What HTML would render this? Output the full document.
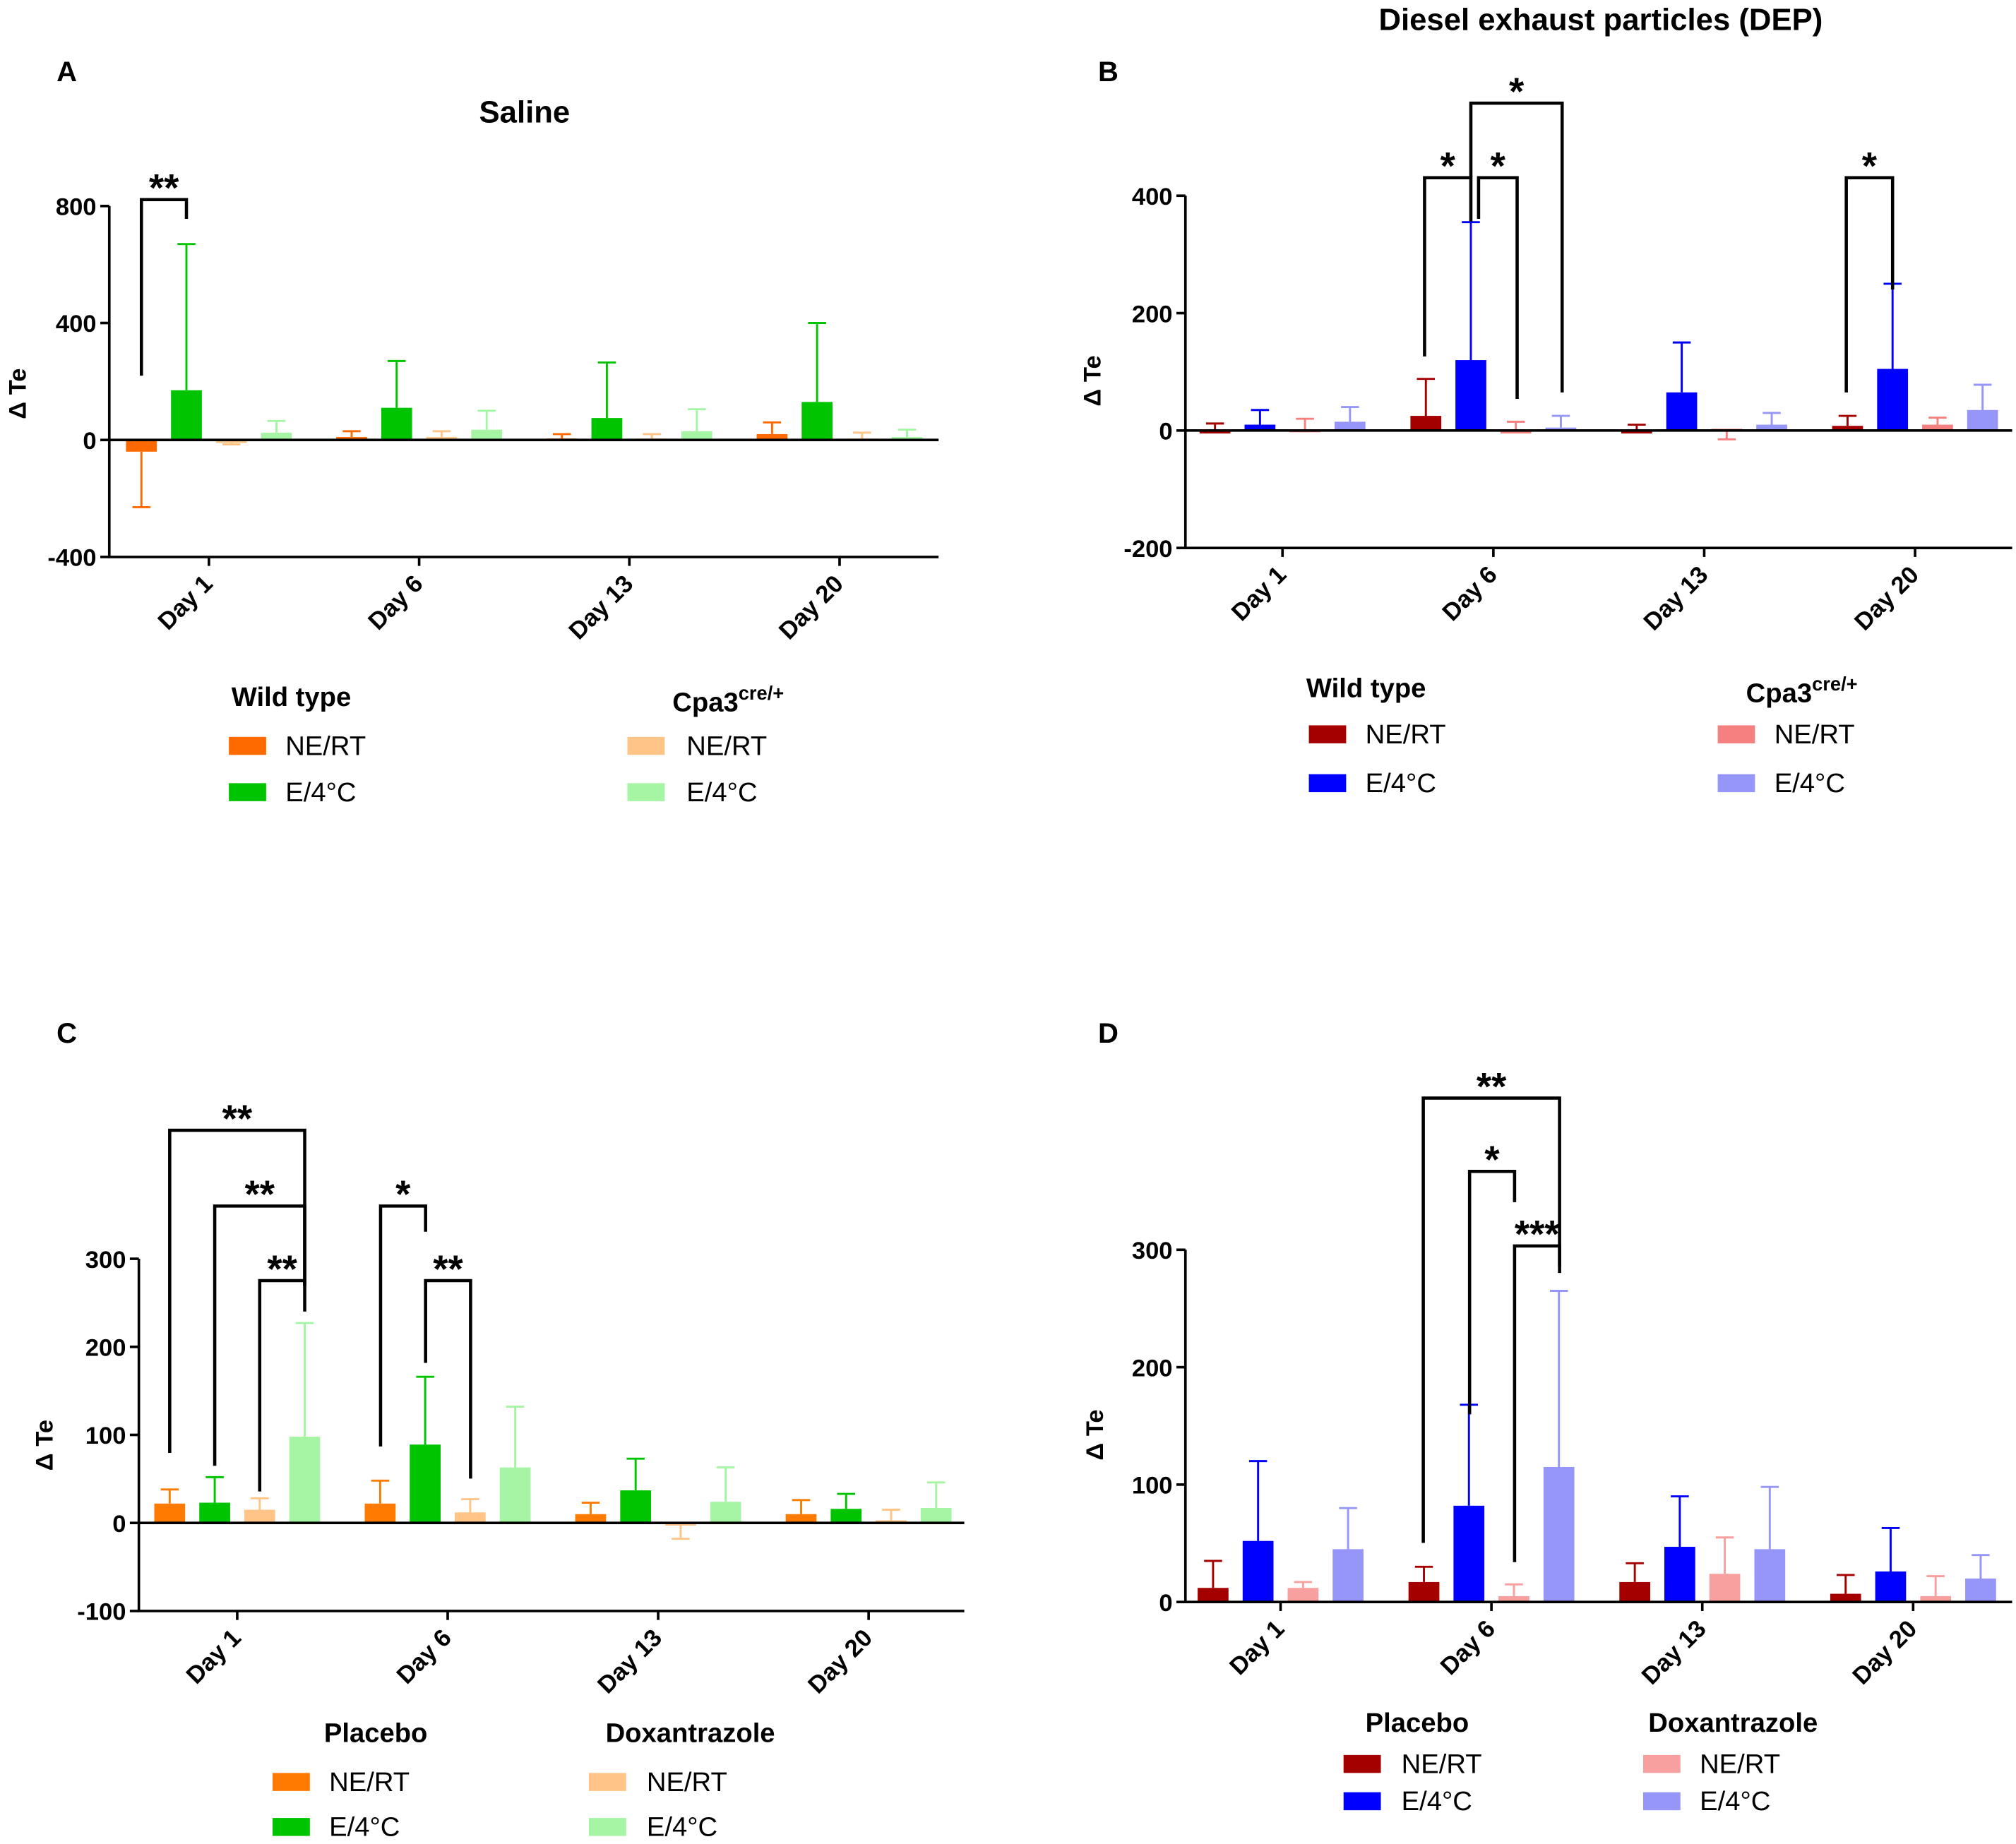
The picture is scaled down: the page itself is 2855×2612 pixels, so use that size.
<!DOCTYPE html>
<html><head><meta charset="utf-8"><style>
html,body{margin:0;padding:0;background:#fff}
svg{display:block;font-family:"Liberation Sans",Arial,sans-serif}
</style></head><body>
<svg id="fig" width="2855" height="2612" viewBox="0 0 1568 1434" xmlns="http://www.w3.org/2000/svg">
<g font-weight="bold" fill="#000">
<text x="44" y="63" font-size="22">A</text>
<text x="854" y="63" font-size="22">B</text>
<text x="44" y="811" font-size="22">C</text>
<text x="854" y="811" font-size="22">D</text>
<text x="408" y="95" font-size="24" text-anchor="middle">Saline</text>
<text x="1245" y="23" font-size="24" text-anchor="middle">Diesel exhaust particles (DEP)</text>
</g>
<g id="plots"></g>
</svg>
<script>
// Data
const days = ["Day 1","Day 6","Day 13","Day 20"];
const seriesNames = ["NE/RT","E/4°C","NE/RT","E/4°C"];
// Panel A (Saline)
const aMean = [[-40,170,-10,25],[10,110,10,35],[5,75,5,30],[20,130,5,10]];
const aErr  = [[-230,670,-15,65],[30,270,30,100],[20,265,20,105],[60,400,25,35]];
const aTicks = [800,400,0,-400];
// Panel B (DEP)
const bMean = [[-5,10,-3,15],[25,120,-5,5],[-5,65,3,10],[8,105,10,35]];
const bErr  = [[12,35,20,40],[88,355,15,25],[10,150,-15,30],[25,250,22,78]];
const bTicks = [400,200,0,-200];
// Panel C
const cMean = [[22,23,15,98],[22,89,12,63],[10,37,-3,24],[10,16,3,17]];
const cErr  = [[38,52,28,227],[48,166,27,132],[23,73,-18,63],[26,33,15,46]];
const cTicks = [300,200,100,0,-100];
// Panel D
const dMean = [[12,52,12,45],[17,82,5,115],[17,47,24,45],[7,26,5,20]];
const dErr  = [[35,120,17,80],[30,168,15,265],[33,90,55,98],[23,63,22,40]];
const dTicks = [300,200,100,0];

const NS="http://www.w3.org/2000/svg";
const root=document.getElementById('plots');
function mk(tag,attrs,parent){const e=document.createElementNS(NS,tag);for(const k in attrs)e.setAttribute(k,attrs[k]);(parent||root).appendChild(e);return e;}

const panels=[
 {id:'a',mean:aMean,err:aErr,ticks:aTicks,x0:85,x1:730,yTop:160,vTop:800,yBot:433,vBot:-400,c0:162.5,gap:163.5,colors:['#ff6a00','#00c400','#ffc487','#a5f5a5'],
  ylab:[14,300],leg:{t1:['Wild type',180,549],t2:[523,553],sx1:178,tx1:222,sx2:488,tx2:534,y1:580,y2:616},
  br:[[110,145,155,292,170,'**']]},
 {id:'b',mean:bMean,err:bErr,ticks:bTicks,x0:922,x1:1565,yTop:152,vTop:400,yBot:426,vBot:-200,c0:997.5,gap:164,colors:['#a50000','#0000ff','#f58080','#9696f8'],
  ylab:[850,290],leg:{t1:['Wild type',1016,542],t2:[1358,546],sx1:1018,tx1:1062,sx2:1336,tx2:1380,y1:571,y2:609},
  br:[[1108,1144,138,277,172,'*'],[1150,1180,138,170,310,'*'],[1144,1215,80,138,305,'*'],[1436,1472,138,305,225,'*']]},
 {id:'c',mean:cMean,err:cErr,ticks:cTicks,x0:108,x1:750,yTop:979,vTop:300,yBot:1253,vBot:-100,c0:184.5,gap:163.7,colors:['#ff7a00','#00c400','#ffc487','#a5f5a5'],
  ylab:[35,1118],leg:{t1:['Placebo',252,1355],t2:null,d:['Doxantrazole',471,1355],sx1:212,tx1:256,sx2:458,tx2:503,y1:1386,y2:1421},
  br:[[132,237,879,1130,1000,'**'],[167,237,938,1140,1000,'**'],[202,237,996,1160,1020,'**'],[296,331,938,1125,958,'*'],[331,366,996,1060,1150,'**']]},
 {id:'d',mean:dMean,err:dErr,ticks:dTicks,x0:922,x1:1565,yTop:972,vTop:300,yBot:1246,vBot:0,c0:996,gap:164,colors:['#a50000','#0000ff','#f8a0a0','#9696f8'],
  ylab:[852,1110],leg:{t1:['Placebo',1062,1347],t2:null,d:['Doxantrazole',1282,1347],sx1:1045,tx1:1090,sx2:1278,tx2:1322,y1:1372,y2:1401},
  br:[[1107,1213,854,1200,985,'**'],[1143,1178,911,1100,935,'*'],[1178,1213,969,1215,990,'***']]}
];

panels.forEach(p=>{
 const g=mk('g',{});
 
 
 const y=v=>p.yTop+(p.vTop-v)*(p.yBot-p.yTop)/(p.vTop-p.vBot);
 const offs=[-52.5,-17.5,17.5,52.5], bw=24;
 p.mean.forEach((grp,gi)=>{
  const cx=p.c0+gi*p.gap;
  grp.forEach((v,si)=>{
   const x=cx+offs[si], col=p.colors[si];
   const r=mk('rect',{x:x-bw/2,y:Math.min(y(v),y(0)),width:bw,height:Math.max(Math.abs(y(v)-y(0)),0.5),fill:col},g);
   
   
   const e=p.err[gi][si];
   const el=mk('path',{d:`M${x} ${y(v)}V${y(e)}M${x-7} ${y(e)}H${x+7}`,stroke:col,'stroke-width':1.6,fill:'none'},g);
   
   
  });
 });
 const ax=mk('path',{d:`M${p.x0} ${p.yTop}V${p.yBot}H${p.x1}M${p.x0} ${y(0)}H${p.x1}`,stroke:'#000','stroke-width':2,fill:'none'},g);
 
 
 p.ticks.forEach(t=>{
  mk('path',{d:`M${p.x0-7} ${y(t)}H${p.x0}`,stroke:'#000','stroke-width':2},g);
  const tx=mk('text',{x:p.x0-10,y:y(t)+7,'text-anchor':'end','font-size':19,'font-weight':'bold'},g);
  tx.textContent=t;
  
  
 });
 days.forEach((d,gi)=>{
  const cx=p.c0+gi*p.gap;
  mk('path',{d:`M${cx} ${p.yBot}V${p.yBot+7}`,stroke:'#000','stroke-width':2},g);
  const tx=mk('text',{x:cx+4,y:p.yBot+22,'text-anchor':'end','font-size':19,'font-weight':'bold',transform:`rotate(-45 ${cx+4} ${p.yBot+22})`},g);
  tx.textContent=d;
  
  
 });
 const yl=mk('text',{x:p.ylab[0],y:p.ylab[1],'text-anchor':'middle','font-size':19,'font-weight':'bold',transform:`rotate(-90 ${p.ylab[0]+6} ${p.ylab[1]})`},g);
 yl.textContent='Δ Te';
 
 
 p.br.forEach(b=>{
  const [xa,xb,yt,la,lb,s]=b;
  const bp=mk('path',{d:`M${xa} ${la}V${yt}H${xb}V${lb}`,stroke:'#000','stroke-width':2.5,fill:'none'},g);
  
  
  const st=mk('text',{x:(xa+xb)/2,y:yt+1,'text-anchor':'middle','font-size':30,'font-weight':'bold'},g);
  st.textContent=s;
  
  
 });
 const L=p.leg;
 const h1=mk('text',{x:L.t1[1],y:L.t1[2],'font-size':21,'font-weight':'bold'},g);
 h1.textContent=L.t1[0];
 
 
 if(L.t2){
  const h2=mk('text',{x:L.t2[0],y:L.t2[1],'font-size':21,'font-weight':'bold'},g);
  h2.innerHTML='Cpa3<tspan font-size="15" dy="-9">cre/+</tspan>';
  
  
 } else {
  const h2=mk('text',{x:L.d[1],y:L.d[2],'font-size':21,'font-weight':'bold'},g);
  h2.textContent=L.d[0];
  
  
 }
 [[L.sx1,L.tx1,L.y1,0],[L.sx1,L.tx1,L.y2,1],[L.sx2,L.tx2,L.y1,2],[L.sx2,L.tx2,L.y2,3]].forEach(([sx,tx,yy,si])=>{
  const sw=mk('rect',{x:sx,y:yy-7,width:29,height:14,fill:p.colors[si]},g);
  
  
  const lt=mk('text',{x:tx,y:yy+7,'font-size':21},g);
  lt.textContent=seriesNames[si];
  
  
 });
});
</script>
</body></html>
